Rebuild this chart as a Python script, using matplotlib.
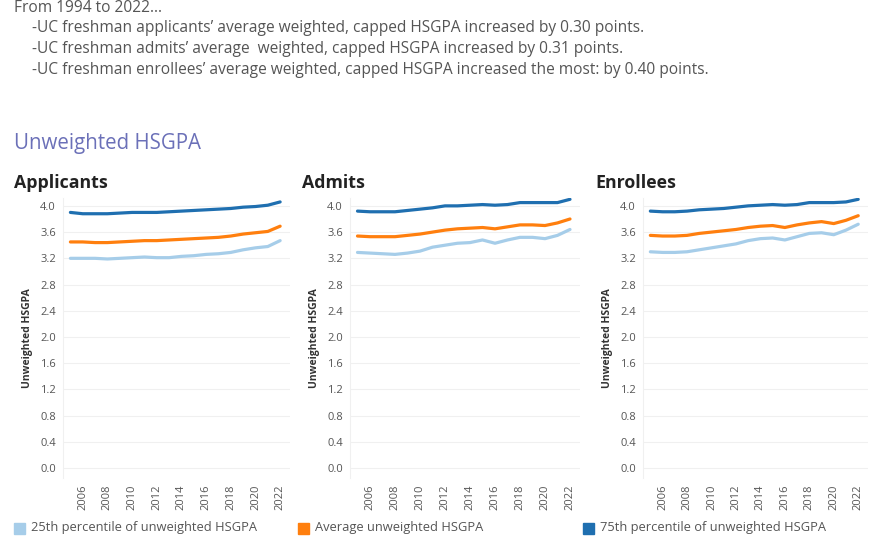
import numpy as np
import matplotlib.pyplot as plt

plt.rcParams['font.family'] = ['Open Sans', 'DejaVu Sans']

years = list(range(2005, 2023))

# Applicants
app_p25 = [3.20, 3.20, 3.20, 3.19, 3.20, 3.21, 3.22, 3.21, 3.21, 3.23, 3.24, 3.26, 3.27, 3.29, 3.33, 3.36, 3.38, 3.47]
app_avg = [3.45, 3.45, 3.44, 3.44, 3.45, 3.46, 3.47, 3.47, 3.48, 3.49, 3.50, 3.51, 3.52, 3.54, 3.57, 3.59, 3.61, 3.69]
app_p75 = [3.90, 3.88, 3.88, 3.88, 3.89, 3.90, 3.90, 3.90, 3.91, 3.92, 3.93, 3.94, 3.95, 3.96, 3.98, 3.99, 4.01, 4.06]

# Admits
adm_p25 = [3.29, 3.28, 3.27, 3.26, 3.28, 3.31, 3.37, 3.40, 3.43, 3.44, 3.48, 3.43, 3.48, 3.52, 3.52, 3.50, 3.55, 3.64]
adm_avg = [3.54, 3.53, 3.53, 3.53, 3.55, 3.57, 3.60, 3.63, 3.65, 3.66, 3.67, 3.65, 3.68, 3.71, 3.71, 3.70, 3.74, 3.80]
adm_p75 = [3.92, 3.91, 3.91, 3.91, 3.93, 3.95, 3.97, 4.00, 4.00, 4.01, 4.02, 4.01, 4.02, 4.05, 4.05, 4.05, 4.05, 4.10]

# Enrollees
enr_p25 = [3.30, 3.29, 3.29, 3.30, 3.33, 3.36, 3.39, 3.42, 3.47, 3.50, 3.51, 3.48, 3.53, 3.58, 3.59, 3.56, 3.63, 3.72]
enr_avg = [3.55, 3.54, 3.54, 3.55, 3.58, 3.60, 3.62, 3.64, 3.67, 3.69, 3.70, 3.67, 3.71, 3.74, 3.76, 3.73, 3.78, 3.85]
enr_p75 = [3.92, 3.91, 3.91, 3.92, 3.94, 3.95, 3.96, 3.98, 4.00, 4.01, 4.02, 4.01, 4.02, 4.05, 4.05, 4.05, 4.06, 4.10]

panels = ['Applicants', 'Admits', 'Enrollees']
series = [(app_p25, app_avg, app_p75), (adm_p25, adm_avg, adm_p75), (enr_p25, enr_avg, enr_p75)]
legend_labels = ['25th percentile of unweighted HSGPA', 'Average unweighted HSGPA',
                 '75th percentile of unweighted HSGPA']
colors = ['#a6cde9', '#ff7f0e', '#1f6fb0']

summary = ["From 1994 to 2022...",
           "-UC freshman applicants\u2019 average weighted, capped HSGPA increased by 0.30 points.",
           "-UC freshman admits\u2019 average  weighted, capped HSGPA increased by 0.31 points.",
           "-UC freshman enrollees\u2019 average weighted, capped HSGPA increased the most: by 0.40 points."]

W, H = 880, 560
fig = plt.figure(figsize=(W / 100, H / 100), dpi=100)

def fx(px):
    return px / W

def fy(py):
    return 1 - py / H

txt_color = '#555555'
fig.text(fx(14), fy(8), summary[0], fontsize=11.2, color=txt_color, va='center')
for i, line in enumerate(summary[1:]):
    fig.text(fx(32), fy(28 + i * 21), line, fontsize=11.2, color=txt_color, va='center')

fig.text(fx(14), fy(143), 'Unweighted HSGPA', fontsize=14.8, color='#6b70b8', va='center')

lefts = [63, 350, 643]
rights = [290, 580, 868]
title_x = [14, 302, 595]
top, bottom = 198, 478

for k in range(3):
    ax = fig.add_axes([fx(lefts[k]), fy(bottom), fx(rights[k] - lefts[k]), (bottom - top) / H])
    for vals, c in zip(series[k], colors):
        ax.plot(years, vals, color=c, lw=2.3, solid_capstyle='round')
    ax.set_xlim(2004.4, 2022.8)
    ax.set_ylim(-0.15, 4.12)
    ax.set_yticks(np.arange(0, 4.01, 0.4))
    ax.set_yticklabels([f'{v:.1f}' for v in np.arange(0, 4.01, 0.4)])
    ax.set_xticks(range(2006, 2023, 2))
    ax.set_xticklabels([str(y) for y in range(2006, 2023, 2)], rotation=90)
    ax.tick_params(axis='both', length=0, labelsize=8, colors=txt_color, pad=5)
    ax.grid(axis='y', color='#f0f0f0', lw=0.8)
    ax.set_axisbelow(True)
    for s in ['top', 'right', 'bottom']:
        ax.spines[s].set_visible(False)
    ax.spines['left'].set_color('#f0f0f0')
    ax.set_ylabel('Unweighted HSGPA', fontsize=7.5, fontweight='bold', color='#333333', labelpad=5)
    fig.text(fx(title_x[k]), fy(183), panels[k], fontsize=12.8, fontweight='bold',
             color='#222222', va='center')

leg_x = [14, 298, 583]
for k in range(3):
    fig.patches.append(plt.Rectangle((fx(leg_x[k]), fy(534)), fx(11), 11 / H,
                                     transform=fig.transFigure, color=colors[k]))
    fig.text(fx(leg_x[k] + 17), fy(528), legend_labels[k], fontsize=9.3, color=txt_color, va='center')

fig.savefig('out.png', dpi=100)
